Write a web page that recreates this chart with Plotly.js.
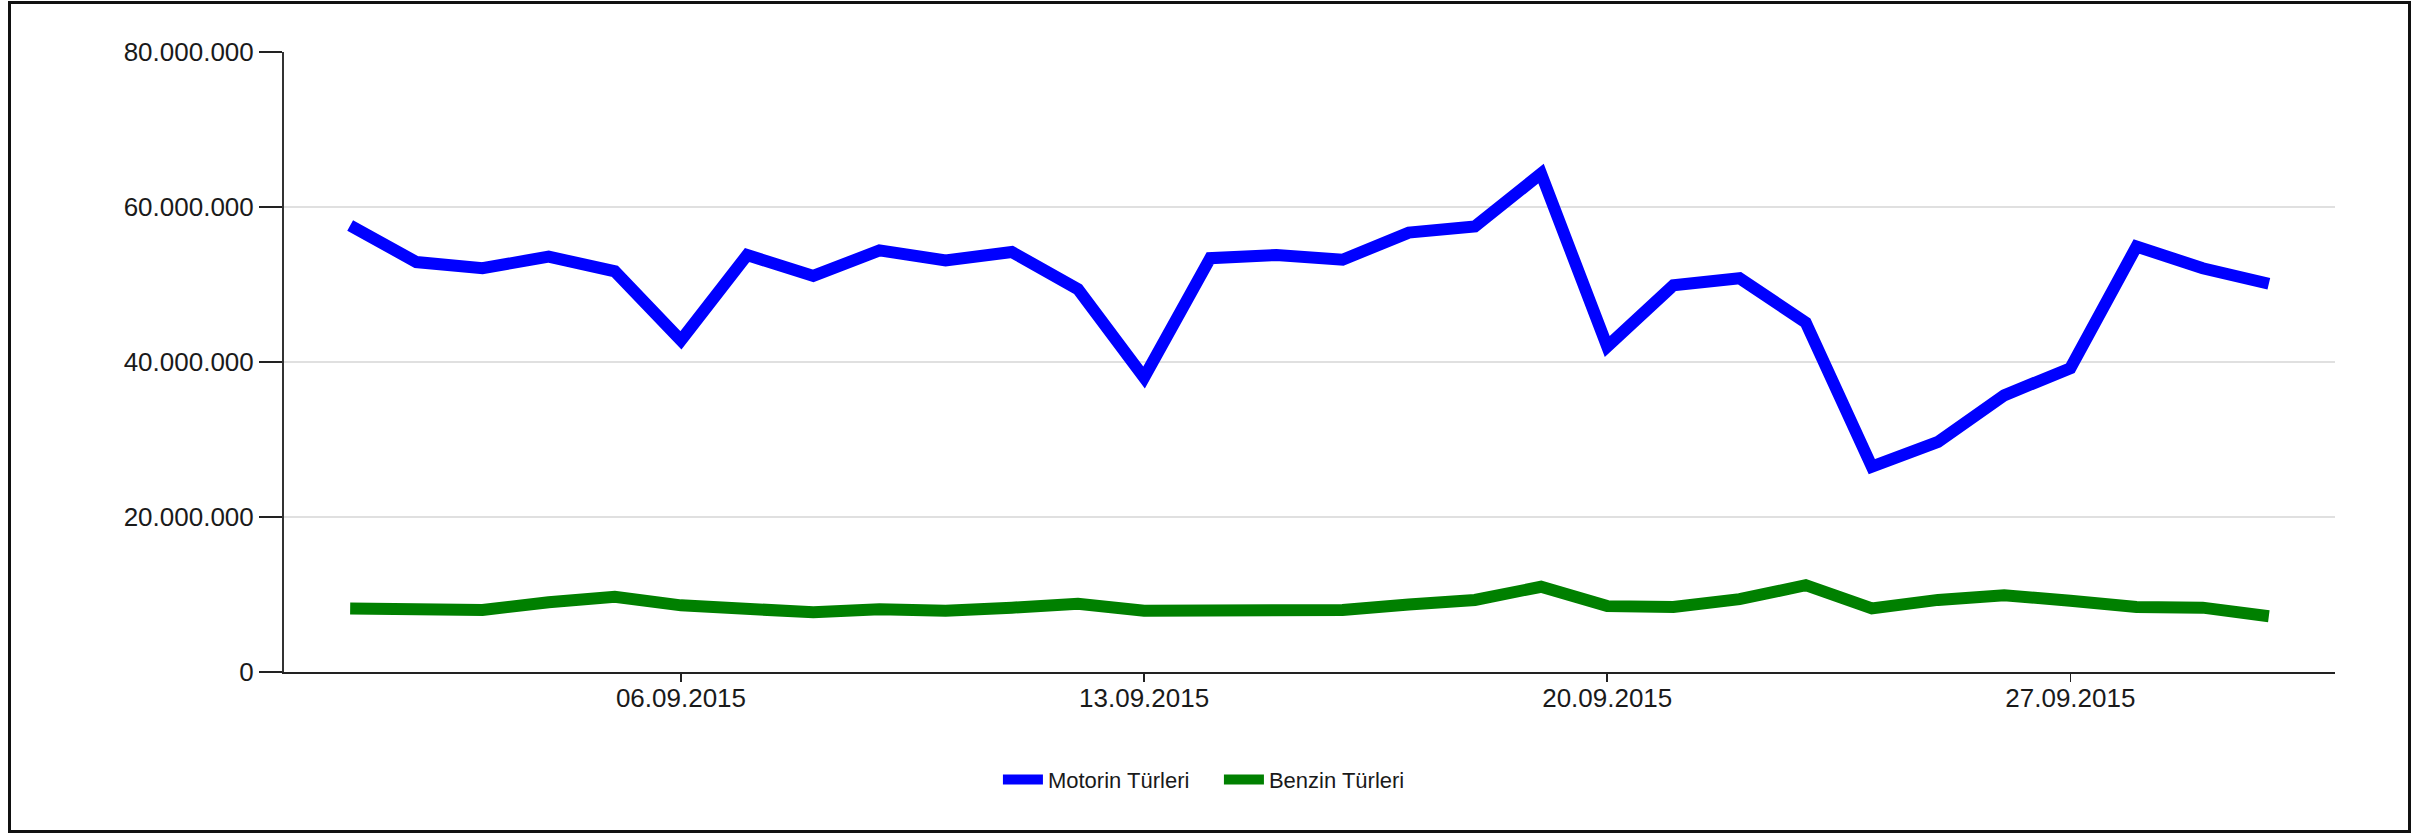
<!DOCTYPE html>
<html>
<head>
<meta charset="utf-8">
<script src="https://cdn.plot.ly/plotly-3.0.1.min.js"></script>
<style>
  html, body { margin: 0; padding: 0; background: #fff; }
  #chart { width: 2433px; height: 833px; }
  #frame { position: absolute; left: 8px; top: 1px; width: 2403px; height: 832px;
           border: 3px solid #111; box-sizing: border-box; pointer-events: none; }
</style>
</head>
<body>
<div id="chart"></div>
<div id="frame"></div>
<script>
// Dates (September 2015)
const dates = [
  '2015-09-01','2015-09-02','2015-09-03','2015-09-04','2015-09-05','2015-09-06',
  '2015-09-07','2015-09-08','2015-09-09','2015-09-10','2015-09-11','2015-09-12',
  '2015-09-13','2015-09-14','2015-09-15','2015-09-16','2015-09-17','2015-09-18',
  '2015-09-19','2015-09-20','2015-09-21','2015-09-22','2015-09-23','2015-09-24',
  '2015-09-25','2015-09-26','2015-09-27','2015-09-28','2015-09-29','2015-09-30'
];
// Motorin Türleri (litres)
const motorin = [
  57600000, 52900000, 52100000, 53600000, 51700000, 42800000,
  53800000, 51100000, 54400000, 53100000, 54200000, 49400000,
  38000000, 53400000, 53800000, 53200000, 56700000, 57500000,
  64300000, 42000000, 49900000, 50800000, 45100000, 26500000,
  29700000, 35700000, 39200000, 54900000, 52100000, 50100000
];
// Benzin Türleri (litres)
const benzin = [
  8200000, 8000000, 8000000, 9000000, 9700000, 8600000,
  8200000, 7700000, 8100000, 7900000, 8300000, 8800000,
  7900000, 7900000, 8000000, 8000000, 8700000, 9300000,
  11000000, 8500000, 8400000, 9400000, 11200000, 8200000,
  9300000, 9900000, 9200000, 8400000, 8300000, 7200000
];
const seriesNames = ['Motorin Türleri', 'Benzin Türleri'];
const yTicks = [0, 20000000, 40000000, 60000000, 80000000];
const xTickStart = '2015-09-06';

const FONT = '"Liberation Sans", Arial, sans-serif';

const traces = [
  { x: dates, y: motorin, name: seriesNames[0], type: 'scatter', mode: 'lines',
    line: { color: '#0000ff', width: 12 } },
  { x: dates, y: benzin, name: seriesNames[1], type: 'scatter', mode: 'lines',
    line: { color: '#008000', width: 12 } }
];

const layout = {
  width: 2433, height: 833,
  margin: { l: 284, r: 98, t: 52, b: 161 },
  paper_bgcolor: '#fff', plot_bgcolor: '#fff',
  separators: ',.',
  font: { family: FONT, size: 26, color: '#1a1a1a' },
  showlegend: true,
  legend: {
    orientation: 'h', xref: 'container', yref: 'container',
    x: 0.501, xanchor: 'center', y: 0.064, yanchor: 'middle',
    font: { family: FONT, size: 22, color: '#1a1a1a' },
    itemwidth: 40,
    entrywidth: 166, entrywidthmode: 'pixels'
  },
  xaxis: {
    type: 'date',
    range: ['2015-08-31', '2015-10-01'],
    tick0: xTickStart, dtick: 7 * 86400000,
    tickformat: '%d.%m.%Y',
    showgrid: false, zeroline: false,
    showline: true, linecolor: '#222', linewidth: 2,
    ticks: 'outside', ticklen: 8, tickwidth: 1.5, tickcolor: '#222',
    ticklabelstandoff: -6,
    tickfont: { family: FONT, size: 26, color: '#1a1a1a' }
  },
  yaxis: {
    range: [0, 80000000],
    tickvals: yTicks,
    tickformat: ',.0f',
    showgrid: true, gridcolor: '#e0e0e0', gridwidth: 2,
    zeroline: false,
    showline: true, linecolor: '#333', linewidth: 2,
    ticks: 'outside', ticklen: 23, tickwidth: 2, tickcolor: '#222',
    tickfont: { family: FONT, size: 26, color: '#1a1a1a' }
  }
};

Plotly.newPlot('chart', traces, layout, { displayModeBar: false, staticPlot: true });
</script>
</body>
</html>
